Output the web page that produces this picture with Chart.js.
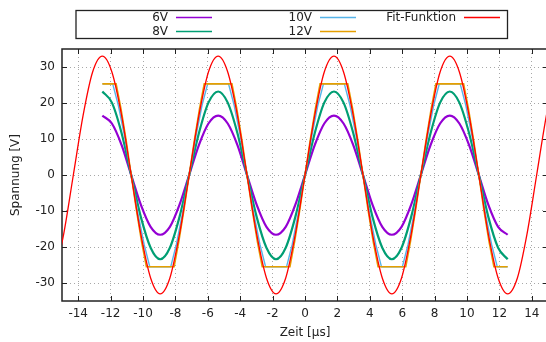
<!DOCTYPE html>
<html>
<head>
<meta charset="utf-8">
<script src="https://cdn.jsdelivr.net/npm/chart.js@4.4.0/dist/chart.umd.min.js"></script>
<style>
html, body { margin: 0; padding: 0; background: #fff; overflow: hidden; }
canvas { display: block; }
</style>
</head>
<body>
<canvas id="chart" width="548" height="342"></canvas>
<script>
// Zeit in µs, Spannung in V
var xTicks = [-14, -12, -10, -8, -6, -4, -2, 0, 2, 4, 6, 8, 10, 12, 14];
var yTicks = [-30, -20, -10, 0, 10, 20, 30];

// Messzeitpunkte fuer 6V und 8V
var tMess = [-12.51, -11.92, -11.32, -10.73, -10.13, -9.53, -8.94, -8.34, -7.75, -7.15, -6.55, -5.96,
             -5.36, -4.77, -4.17, -3.58, -2.98, -2.38, -1.79, -1.19, -0.60, 0, 0.60, 1.19,
             1.79, 2.38, 2.98, 3.58, 4.17, 4.77, 5.36, 5.96, 6.55, 7.15, 7.75, 8.34,
             8.94, 9.53, 10.13, 10.73, 11.32, 11.92, 12.51];
var u6V = [16.5, 14.3, 8.3, 0, -8.3, -14.4, -16.6, -14.4, -8.3, 0, 8.3, 14.3,
           16.5, 14.3, 8.3, 0, -8.3, -14.4, -16.6, -14.4, -8.3, 0, 8.3, 14.3,
           16.5, 14.3, 8.3, 0, -8.3, -14.4, -16.6, -14.4, -8.3, 0, 8.3, 14.3,
           16.5, 14.3, 8.3, 0, -8.3, -14.4, -16.6];
var u8V = [23.2, 20.1, 11.6, 0, -11.7, -20.2, -23.4, -20.2, -11.7, 0, 11.6, 20.1,
           23.2, 20.1, 11.6, 0, -11.7, -20.2, -23.4, -20.2, -11.7, 0, 11.6, 20.1,
           23.2, 20.1, 11.6, 0, -11.7, -20.2, -23.4, -20.2, -11.7, 0, 11.6, 20.1,
           23.2, 20.1, 11.6, 0, -11.7, -20.2, -23.4];

// 10V (begrenzt)
var t10V = [-12.51, -11.87, -11.52, -11.12, -10.73, -10.33, -9.93, -9.58, -8.29, -7.94, -7.55, -7.15,
            -6.75, -6.36, -6.01, -4.72, -4.37, -3.97, -3.58, -3.18, -2.78, -2.43, -1.14, -0.79, -0.40, 0,
            0.40, 0.79, 1.14, 2.43, 2.78, 3.18, 3.58, 3.97, 4.37, 4.72, 6.01, 6.36, 6.75, 7.15,
            7.55, 7.94, 8.29, 9.58, 9.93, 10.33, 10.73, 11.12, 11.52, 11.87, 12.51];
var u10V = [25.3, 25.3, 19.3, 10.3, 0, -10.3, -19.3, -25.5, -25.5, -19.3, -10.3, 0,
            10.3, 19.3, 25.3, 25.3, 19.3, 10.3, 0, -10.3, -19.3, -25.5, -25.5, -19.3, -10.3, 0,
            10.3, 19.3, 25.3, 25.3, 19.3, 10.3, 0, -10.3, -19.3, -25.5, -25.5, -19.3, -10.3, 0,
            10.3, 19.3, 25.3, 25.3, 19.3, 10.3, 0, -10.3, -19.3, -25.5, -25.5];

// 12V (begrenzt)
var t12V = [-12.51, -11.66, -11.36, -11.04, -10.73, -10.41, -10.09, -9.79, -8.08, -7.79, -7.47, -7.15,
            -6.83, -6.51, -6.22, -4.51, -4.21, -3.89, -3.58, -3.26, -2.94, -2.64, -0.93, -0.64, -0.32, 0,
            0.32, 0.64, 0.93, 2.64, 2.94, 3.26, 3.58, 3.89, 4.21, 4.51, 6.22, 6.51, 6.83, 7.15,
            7.47, 7.79, 8.08, 9.79, 10.09, 10.41, 10.73, 11.04, 11.36, 11.66, 12.51];
var u12V = [25.3, 25.3, 18.4, 9.6, 0, -9.6, -18.5, -25.5, -25.5, -18.5, -9.6, 0,
            9.6, 18.4, 25.3, 25.3, 18.4, 9.6, 0, -9.6, -18.5, -25.5, -25.5, -18.5, -9.6, 0,
            9.6, 18.4, 25.3, 25.3, 18.4, 9.6, 0, -9.6, -18.5, -25.5, -25.5, -18.5, -9.6, 0,
            9.6, 18.4, 25.3, 25.3, 18.4, 9.6, 0, -9.6, -18.5, -25.5, -25.5];

// Fit-Funktion
var tFit = [-15.49, -14.90, -14.30, -13.70, -13.11, -12.51, -11.92, -11.32, -10.73, -10.13, -9.53, -8.94, -8.34,
            -7.75, -7.15, -6.55, -5.96, -5.36, -4.77, -4.17, -3.58, -2.98, -2.38, -1.79, -1.19, -0.60, 0,
            0.60, 1.19, 1.79, 2.38, 2.98, 3.58, 4.17, 4.77, 5.36, 5.96, 6.55, 7.15, 7.75,
            8.34, 8.94, 9.53, 10.13, 10.73, 11.32, 11.92, 12.51, 13.11, 13.70, 14.30, 14.90, 15.49];
var uFit = [-28.6, -16.5, 0, 16.5, 28.6, 33, 28.6, 16.5, 0, -16.5, -28.6, -33, -28.6,
            -16.5, 0, 16.5, 28.6, 33, 28.6, 16.5, 0, -16.5, -28.6, -33, -28.6, -16.5, 0,
            16.5, 28.6, 33, 28.6, 16.5, 0, -16.5, -28.6, -33, -28.6, -16.5, 0, 16.5,
            28.6, 33, 28.6, 16.5, 0, -16.5, -28.6, -33, -28.6, -16.5, 0, 16.5, 28.6];

function punkte(t, u) {
    return t.map(function (x, i) { return { x: x, y: u[i] }; });
}

Chart.defaults.font.family = "'DejaVu Sans', sans-serif";
Chart.defaults.font.size = 12;
Chart.defaults.color = '#222';

// Rahmen mit Ticks nach innen (wie gnuplot)
var rahmenPlugin = {
    id: 'rahmen',
    beforeDatasetsDraw: function (chart) {
        var ctx = chart.ctx, a = chart.chartArea;
        var xs = chart.scales.x, ys = chart.scales.y;
        ctx.save();
        ctx.strokeStyle = '#222';
        ctx.lineWidth = 1;
        ctx.beginPath();
        xTicks.forEach(function (v) {
            var px = Math.round(xs.getPixelForValue(v)) + 0.5;
            ctx.moveTo(px, a.bottom); ctx.lineTo(px, a.bottom - 5);
            ctx.moveTo(px, a.top); ctx.lineTo(px, a.top + 5);
        });
        yTicks.forEach(function (v) {
            var py = Math.round(ys.getPixelForValue(v)) + 0.5;
            ctx.moveTo(a.left, py); ctx.lineTo(a.left + 5, py);
            ctx.moveTo(a.right, py); ctx.lineTo(a.right - 5, py);
        });
        ctx.stroke();
        ctx.lineWidth = 1.5;
        ctx.strokeRect(a.left, a.top, a.right - a.left, a.bottom - a.top);
        ctx.restore();
    }
};

// Legende oben im Kasten, Text rechtsbuendig vor der Linie
var legendePlugin = {
    id: 'legende',
    afterDraw: function (chart) {
        var ctx = chart.ctx;
        var spalten = [168, 312, 456], zeilen = [17.5, 31.5];
        ctx.save();
        ctx.strokeStyle = '#222';
        ctx.lineWidth = 1.3;
        ctx.strokeRect(76, 10.5, 431.5, 28);
        ctx.font = "12px 'DejaVu Sans'";
        ctx.textAlign = 'right';
        ctx.textBaseline = 'middle';
        chart.data.datasets.forEach(function (ds, i) {
            var x = spalten[Math.floor(i / 2)], y = zeilen[i % 2];
            ctx.fillStyle = '#222';
            ctx.fillText(ds.label, x, y + 0.5);
            ctx.strokeStyle = ds.borderColor;
            ctx.lineWidth = 1.5;
            ctx.beginPath();
            ctx.moveTo(x + 8, y);
            ctx.lineTo(x + 44, y);
            ctx.stroke();
        });
        ctx.restore();
    }
};

var ctx = document.getElementById('chart').getContext('2d');
var myChart = new Chart(ctx, {
    type: 'line',
    data: {
        datasets: [
            { label: '6V', data: punkte(tMess, u6V), borderColor: '#9400d3', borderWidth: 2.2,
              cubicInterpolationMode: 'monotone', order: 4 },
            { label: '8V', data: punkte(tMess, u8V), borderColor: '#009e73', borderWidth: 2.2,
              cubicInterpolationMode: 'monotone', order: 3 },
            { label: '10V', data: punkte(t10V, u10V), borderColor: '#56b4e9', borderWidth: 1.4,
              tension: 0, order: 2 },
            { label: '12V', data: punkte(t12V, u12V), borderColor: '#e69f00', borderWidth: 1.6,
              tension: 0, order: 1 },
            { label: 'Fit-Funktion', data: punkte(tFit, uFit), borderColor: '#ff0000', borderWidth: 1.3,
              cubicInterpolationMode: 'monotone', order: 0 }
        ]
    },
    options: {
        responsive: false,
        animation: false,
        events: [],
        layout: { padding: { top: 49, right: 0, bottom: 0, left: 0 } },
        elements: { point: { radius: 0 }, line: { fill: false } },
        datasets: { line: { clip: 0 } },
        plugins: { legend: { display: false }, tooltip: { enabled: false } },
        scales: {
            x: {
                type: 'linear', min: -15, max: 15,
                afterBuildTicks: function (s) { s.ticks = xTicks.map(function (v) { return { value: v }; }); },
                afterFit: function (s) { s.height = 41; },
                grid: { color: '#a8a8a8', lineWidth: 1, drawTicks: false },
                border: { display: false, dash: [1, 3] },
                ticks: { padding: 6, maxRotation: 0, autoSkip: false, callback: function (v) { return String(v); } },
                title: { display: true, text: 'Zeit [µs]', padding: { top: 0, bottom: 1.5 } }
            },
            y: {
                min: -35, max: 35,
                afterBuildTicks: function (s) { s.ticks = yTicks.map(function (v) { return { value: v }; }); },
                afterFit: function (s) { s.width = 62; },
                grid: { color: '#a8a8a8', lineWidth: 1, drawTicks: false },
                border: { display: false, dash: [1, 3] },
                ticks: { padding: 7, callback: function (v) { return String(v); } },
                title: { display: true, text: 'Spannung [V]', padding: { top: 8.3, bottom: 0 } }
            }
        }
    },
    plugins: [rahmenPlugin, legendePlugin]
});
</script>
</body>
</html>
